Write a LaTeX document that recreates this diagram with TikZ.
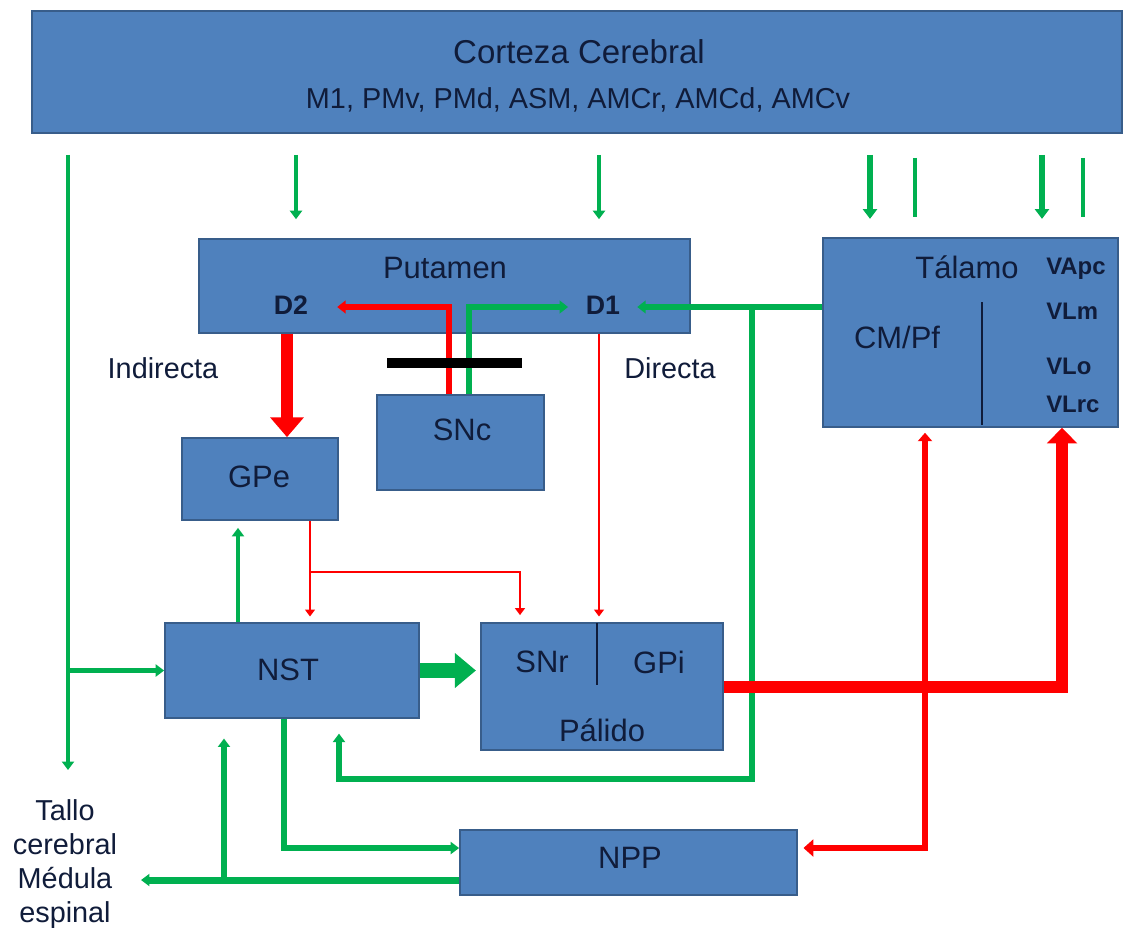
\documentclass[tikz,border=0pt]{standalone}
\usepackage{fontspec}
\setmainfont{Liberation Sans}
\usepackage{tikz}
\usetikzlibrary{arrows.meta, positioning, calc}
\definecolor{boxblue}{RGB}{79,129,189}
\definecolor{boxline}{RGB}{56,93,138}
\definecolor{ggreen}{RGB}{0,176,80}
\definecolor{rred}{RGB}{255,0,0}
\definecolor{txt}{RGB}{16,28,58}

\begin{document}
\begin{tikzpicture}[x=0.025cm, y=-0.025cm,
    box/.style={draw=boxline, fill=boxblue, line width=1.2pt, inner sep=0pt},
    bx/.style 2 args={box, minimum width=#1*0.025cm, minimum height=#2*0.025cm},
    lbl/.style={text=txt, inner sep=0pt, font=\fontsize{22}{26}\selectfont},
    mid/.style={text=txt, inner sep=0pt, font=\fontsize{20.5}{24.2}\selectfont},
    dlbl/.style={text=txt, inner sep=0pt, font=\fontsize{19}{22}\selectfont\bfseries},
    vlbl/.style={text=txt, inner sep=0pt, anchor=west, font=\fontsize{17}{20}\selectfont\bfseries},
    gline/.style={draw=ggreen},
    rline/.style={draw=rred},
    gtip/.style={-{Triangle[length=6pt,width=8.5pt]}},
    rtip/.style={-{Triangle[length=5pt,width=7pt]}},
    divider/.style={draw=txt, line width=1pt}]
    \fill[white] (0,0) rectangle (1124,929);
    \useasboundingbox (0,0) rectangle (1124,929);

    \node[bx={1090}{122}] (ctx) at (577,72) {};
    \node[bx={491}{94}] (put) at (444.5,286) {};
    \node[bx={295}{189}] (tal) at (970.5,332.5) {};
    \node[bx={167}{95}] (snc) at (460.5,442.5) {};
    \node[bx={156}{82}] (gpe) at (260,479) {};
    \node[bx={254}{95}] (nst) at (292,670.5) {};
    \node[bx={242}{127}] (pal) at (602,686.5) {};
    \node[bx={337}{65}] (npp) at (628.5,862.5) {};

    \node[text=txt, inner sep=0pt, font=\fontsize{23.5}{28}\selectfont] (ctxt) at (579,52) {Corteza Cerebral};
    \node[mid] (ctxs) at (578,100) {M1, PMv, PMd, ASM, AMCr, AMCd, AMCv};
    \node[lbl] (putt) at (445,268) {Putamen};
    \node[dlbl] (d2) at (291,305) {D2};
    \node[dlbl] (d1) at (603,305) {D1};
    \node[lbl] (talt) at (967,267) {Tálamo};
    \node[vlbl] (vapc) at (1046,269) {VApc};
    \node[vlbl] (vlm) at (1046,311) {VLm};
    \node[vlbl] (vlo) at (1046,366) {VLo};
    \node[vlbl] (vlrc) at (1046,404) {VLrc};
    \node[lbl] (cmpf) at (897,337) {CM/Pf};
    \node[lbl] (snct) at (462,430) {SNc};
    \node[lbl] (gpet) at (259,477) {GPe};
    \node[lbl] (nstt) at (288,670) {NST};
    \node[lbl] (snr) at (542,662) {SNr};
    \node[lbl] (gpi) at (659,662) {GPi};
    \node[lbl] (palt) at (602,730) {Pálido};
    \node[lbl] (nppt) at (630,858) {NPP};
    \node[mid] (ind) at (163,368) {Indirecta};
    \node[mid] (dir) at (670,368) {Directa};
    \node[mid, align=center] (tallo) at (65,864) {Tallo\\cerebral\\Médula\\espinal};

    \draw[divider] (982,302) -- (982,425);
    \draw[divider] (597,623) -- (597,685);

    \coordinate (lft) at (68,770);
    \coordinate (pa) at (296,0);
    \coordinate (pb) at (599,0);
    \coordinate (ta) at (870,0);
    \coordinate (tb) at (915,0);
    \coordinate (tc) at (1042,0);
    \coordinate (td) at (1083,0);
    \coordinate (dx) at (287,0);
    \coordinate (sr) at (449,307);
    \coordinate (sg) at (469,307);
    \coordinate (lp) at (752,779);
    \coordinate (lq) at (339,779);
    \coordinate (ga) at (310,572);
    \coordinate (gb) at (520,572);
    \coordinate (na) at (238,0);
    \coordinate (vr) at (1062,687);
    \coordinate (tn) at (925,848);
    \coordinate (nn) at (284,848);
    \coordinate (te) at (141,880);
    \coordinate (tu) at (224,880);

    \draw[gline, line width=2.8pt, gtip, shorten <=15pt] (ctx.south -| lft) -- (lft);
    \draw[gline, line width=3.5pt, gtip] (lft |- nst.west) -- (nst.west);
    \draw[gline, line width=2.8pt, gtip, shorten <=15pt, shorten >=13.5pt] (ctx.south -| pa) -- (put.north -| pa);
    \draw[gline, line width=2.8pt, gtip, shorten <=15pt, shorten >=13.5pt] (ctx.south -| pb) -- (put.north -| pb);
    \draw[gline, line width=4.3pt, -{Triangle[length=7pt,width=10pt]}, shorten <=15pt, shorten >=13pt] (ctx.south -| ta) -- (tal.north -| ta);
    \draw[gline, line width=4.3pt, -{Triangle[length=7pt,width=10pt]}, shorten <=15pt, shorten >=13pt] (ctx.south -| tc) -- (tal.north -| tc);
    \draw[gline, line width=2.8pt, shorten <=17pt, shorten >=14pt] (ctx.south -| tb) -- (tal.north -| tb);
    \draw[gline, line width=2.8pt, shorten <=17pt, shorten >=14pt] (ctx.south -| td) -- (tal.north -| td);

    \draw[rline, line width=8.5pt, -{Triangle[length=14pt,width=23pt]}] (put.south -| dx) -- (gpe.north -| dx);
    \draw[rline, line width=4.3pt, -{Triangle[length=6pt,width=9pt]}, shorten >=20.5pt] (snc.north -| sr) -- (sr) -- (d2.east |- sr);
    \draw[gline, line width=4.3pt, -{Triangle[length=6pt,width=9pt]}, shorten >=12.5pt] (snc.north -| sg) -- (sg) -- (d1.west |- sg);
    \draw[line width=7pt] (387,363) -- (522,363);
    \draw[gline, line width=4.3pt, -{Triangle[length=6pt,width=9pt]}, shorten >=12pt] (tal.west |- sg) -- (d1.east |- sg);
    \draw[gline, line width=4.3pt, gtip, shorten >=10.5pt] (lp |- sg) -- (lp) -- (lq) -- (nst.south -| lq);

    \draw[rline, line width=2pt, rtip, shorten >=4pt] (put.south -| pb) -- (pal.north -| pb);
    \draw[rline, line width=2pt, rtip, shorten >=4pt] (gpe.south -| ga) -- (nst.north -| ga);
    \draw[rline, line width=2pt, rtip, shorten >=5pt] (ga) -- (gb) -- (pal.north -| gb);
    \draw[gline, line width=3.5pt, gtip, shorten >=5pt] (nst.north -| na) -- (gpe.south -| na);
    \draw[gline, line width=10.5pt, -{Triangle[length=15pt,width=24pt]}, shorten >=3pt] (nst.east) -- (pal.west |- nst.east);
    \draw[rline, line width=9pt, -{Triangle[length=11pt,width=21pt]}] (pal.east |- vr) -| (tal.south -| vr);
    \draw[rline, line width=4.5pt, {Triangle[length=6pt,width=10pt]}-{Triangle[length=7pt,width=12pt]}, shorten <=3.5pt, shorten >=4pt] (tal.south -| tn) -- (tn) -- (npp.east |- tn);

    \draw[gline, line width=4.3pt, gtip] (nst.south -| nn) -- (nn) -- (npp.west |- nn);
    \draw[gline, line width=5pt, gtip] (npp.west |- te) -- (te);
    \draw[gline, line width=4.3pt, gtip, shorten >=14pt] (tu) -- (nst.south -| tu);
\end{tikzpicture}
\end{document}
